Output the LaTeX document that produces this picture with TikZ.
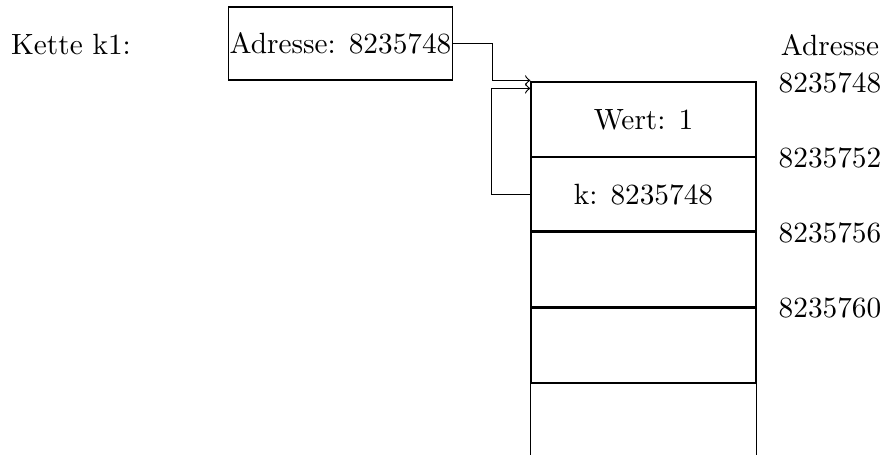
\documentclass[tikz,border=0pt]{standalone}
\usetikzlibrary{calc}
\begin{document}
\begin{tikzpicture}[x=0.3413pt,y=-0.3413pt,
  cellbox/.style={draw,rectangle,inner sep=0pt,minimum width=76.8pt,minimum height=25.6pt},
  plain/.style={inner sep=0pt},
  conn/.style={->}]
\useasboundingbox (0,0) rectangle (885,455);
\node[plain] (kette) at (71,44) {Kette k1:};
\node[draw,rectangle,inner sep=0pt,minimum width=76.45pt,minimum height=24.9pt] (box) at (340.5,43.5) {Adresse: 8235748};
% stack cells
\node[cellbox] (c1) at (643.5,119.5) {Wert: 1};
\node[cellbox] (c2) at (643.5,194.5) {k: 8235748};
\node[cellbox,minimum height=25.94pt] (c3) at (643.5,270) {};
\node[cellbox] (c4) at (643.5,345.5) {};
\node[plain,minimum width=76.8pt,minimum height=24.6pt] (c5) at (643.5,419) {};
\draw (c5.north west) -- (c5.south west);
\draw (c5.north east) -- (c5.south east);
\draw[line width=0.8pt] (c3.north west) -- (c3.north east);
\draw[line width=0.8pt] (c4.north west) -- (c4.north east);
% address labels
\node[plain] (adr) at (830,45) {Adresse};
\node[plain] (a1) at (830,83) {8235748};
\node[plain] (a2) at (830,158) {8235752};
\node[plain] (a3) at (830,233) {8235756};
\node[plain] (a4) at (830,308) {8235760};
% connectors
\coordinate (t1) at ($(c1.north west)+(0,-1)$);
\coordinate (t2) at ($(c1.north west)+(0,7)$);
\draw[conn] (box.east) -- ++(39,0) |- (t1);
\draw[conn] (c2.west) -- ++(-39,0) |- (t2);
\end{tikzpicture}
\end{document}
